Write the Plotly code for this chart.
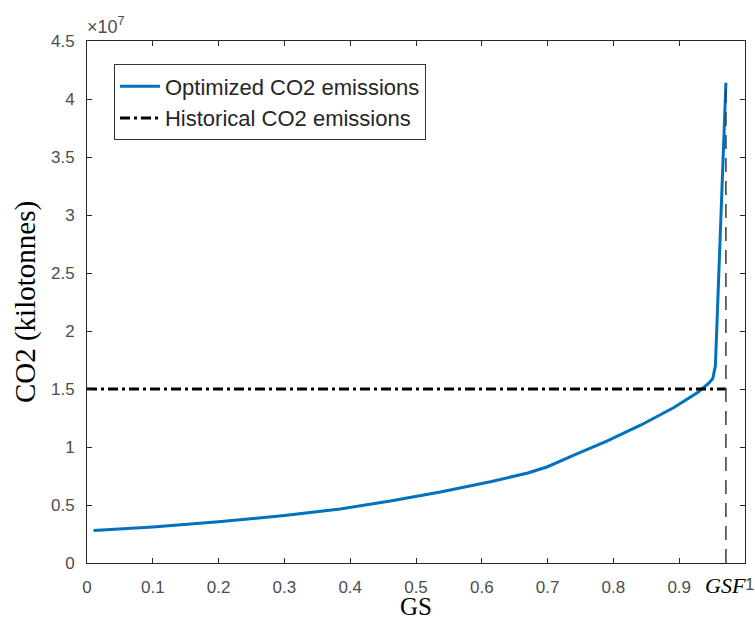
import plotly.graph_objects as go

# Green share (GS) and optimized CO2 emissions (kilotonnes)
gs = [0.01, 0.1, 0.2, 0.3, 0.385, 0.461, 0.537, 0.613, 0.67, 0.70, 0.74, 0.79,
      0.842, 0.892, 0.928, 0.945, 0.951, 0.955, 0.971]
co2_opt = [2.8e6, 3.1e6, 3.55e6, 4.1e6, 4.66e6, 5.34e6, 6.12e6, 7.0e6, 7.76e6,
           8.3e6, 9.3e6, 10.5e6, 11.9e6, 13.4e6, 14.7e6, 15.5e6, 15.9e6, 17.0e6, 41.4e6]

# Historical emissions level and the GS feasibility threshold
co2_hist = 15.0e6
gsf = 0.971

x_ticks = [0, 0.1, 0.2, 0.3, 0.4, 0.5, 0.6, 0.7, 0.8, 0.9, 1]
x_tick_labels = ["0", "0.1", "0.2", "0.3", "0.4", "0.5", "0.6", "0.7", "0.8", "0.9", ""]
y_ticks = [0, 0.5e7, 1e7, 1.5e7, 2e7, 2.5e7, 3e7, 3.5e7, 4e7, 4.5e7]
y_tick_labels = ["0", "0.5", "1", "1.5", "2", "2.5", "3", "3.5", "4", "4.5"]

blue = "#0072BD"
axis_col = "#262626"
sans = "Liberation Sans, Arial, sans-serif"
serif = "Liberation Serif, serif"
tick_font = dict(family=sans, size=17, color="#4d4d4d")

fig = go.Figure()

# GSF marker line (on the overlay x axis that carries the inward tick marks)
fig.add_trace(go.Scatter(
    x=[gsf, gsf], y=[0, max(co2_opt)], mode="lines", xaxis="x2",
    line=dict(color="#3a3a3a", width=1.5, dash="14px,9px"),
    showlegend=False, hoverinfo="skip"))

fig.add_trace(go.Scatter(
    x=gs, y=co2_opt, mode="lines", name="Optimized CO2 emissions",
    line=dict(color=blue, width=3)))

fig.add_trace(go.Scatter(
    x=[0, gsf], y=[co2_hist, co2_hist], mode="lines", name="Historical CO2 emissions",
    line=dict(color="black", width=3, dash="10px,4px,3px,4px")))

fig.update_layout(
    width=755, height=621,
    margin=dict(l=87, r=10, t=41, b=58),
    paper_bgcolor="white", plot_bgcolor="white",
    legend=dict(
        x=0.041, y=0.955, xanchor="left", yanchor="top",
        bgcolor="white", bordercolor="#333333", borderwidth=1,
        font=dict(family=sans, size=22, color="#262626"),
        tracegroupgap=0, itemwidth=40),
    showlegend=True,
    # main x axis: labels pushed down by invisible outward ticks
    xaxis=dict(
        range=[0, 1], tickvals=x_ticks, ticktext=x_tick_labels,
        showgrid=False, zeroline=False, automargin=False,
        showline=True, linecolor=axis_col, linewidth=1, mirror=True,
        ticks="outside", ticklen=9, tickcolor="rgba(0,0,0,0)",
        tickfont=tick_font,
    ),
    # overlay x axis: inward tick marks on bottom and top, no labels
    xaxis2=dict(
        overlaying="x", side="bottom", anchor="y",
        range=[0, 1], tickvals=x_ticks, showticklabels=False,
        showgrid=False, zeroline=False, automargin=False,
        showline=True, linecolor=axis_col, linewidth=1, mirror="ticks",
        ticks="inside", ticklen=5, tickcolor=axis_col,
    ),
    yaxis=dict(
        range=[0, 4.5e7], tickvals=y_ticks, ticktext=y_tick_labels,
        showgrid=False, zeroline=False, automargin=False,
        showline=True, linecolor=axis_col, linewidth=1, mirror="ticks",
        ticks="inside", ticklen=5, tickcolor=axis_col,
        tickfont=tick_font, ticklabelstandoff=8,
        title=dict(text="CO2 (kilotonnes)", font=dict(family=serif, size=29, color="black"),
                   standoff=6),
    ),
)

# X axis title
fig.add_annotation(
    x=0.5, y=0, xref="paper", yref="paper", xanchor="center", yanchor="top",
    text="GS", showarrow=False, yshift=-28,
    font=dict(family=serif, size=25, color="black"))

# Exponent label above the y axis
fig.add_annotation(
    x=0, y=1, xref="paper", yref="paper", xanchor="left", yanchor="bottom",
    text="\u00d710<sup>7</sup>", showarrow=False, xshift=-2, yshift=2,
    font=dict(family=sans, size=18, color="#4d4d4d"))

# GSF tick label
fig.add_annotation(
    x=gsf, y=0, xref="x", yref="paper", xanchor="center", yanchor="top",
    text="<i>GSF</i>", showarrow=False, yshift=-8,
    font=dict(family=serif, size=22, color="black"))

# Last x tick label, nudged right of the GSF label
fig.add_annotation(
    x=1, y=0, xref="x", yref="paper", xanchor="center", yanchor="top",
    text="1", showarrow=False, xshift=4, yshift=-10,
    font=tick_font)

fig.write_html("out.html")
